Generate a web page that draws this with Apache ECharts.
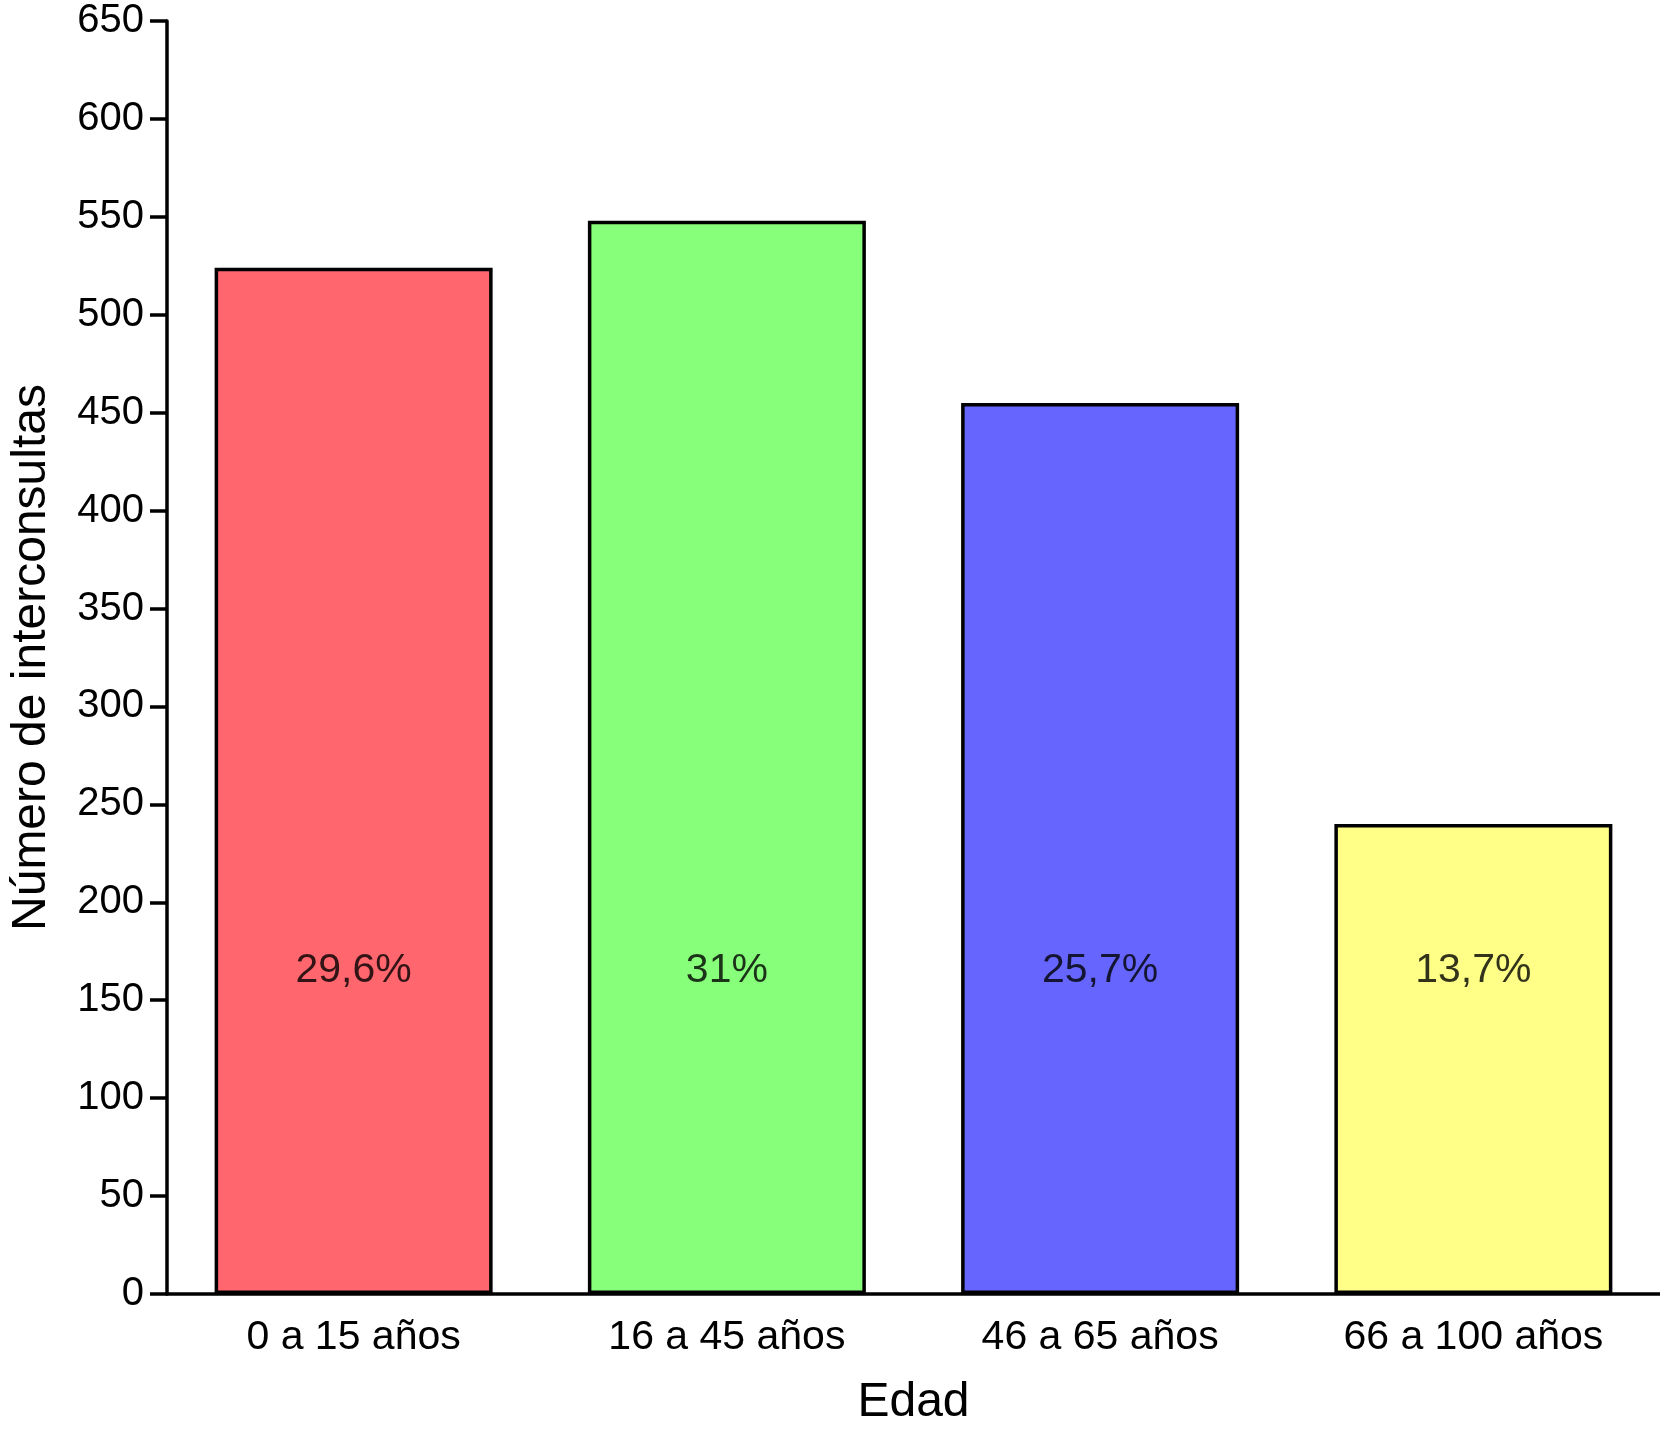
<!DOCTYPE html>
<html><head><meta charset="utf-8">
<script src="https://cdn.jsdelivr.net/npm/echarts@6/dist/echarts.min.js"></script>
<style>html,body{margin:0;padding:0;background:#fff}#c{width:1660px;height:1432px}</style>
</head><body><div id="c"></div>
<script>
const categories = ['0 a 15 años', '16 a 45 años', '46 a 65 años', '66 a 100 años'];
const values = [524, 548, 455, 240];
const percentLabels = ['29,6%', '31%', '25,7%', '13,7%'];
const barColors = ['#FF666E', '#88FF7A', '#6666FF', '#FFFF88'];
const labelLevel = 165;
const yTicks = {min: 0, max: 650, interval: 50};

const font = 'Liberation Sans, Arial, sans-serif';
const chart = echarts.init(document.getElementById('c'), null, {renderer: 'canvas'});
chart.setOption({
  backgroundColor: '#fff',
  animation: false,
  grid: {left: 160, right: -3, top: 21, bottom: 134, containLabel: false},
  xAxis: {
    type: 'category', data: categories,
    name: 'Edad', nameLocation: 'middle', nameGap: 85,
    nameTextStyle: {fontFamily: font, fontSize: 48, color: '#000'},
    axisLine: {lineStyle: {color: '#000', width: 3.5}},
    axisTick: {show: false},
    axisLabel: {fontFamily: font, fontSize: 41, color: '#000', margin: 23}
  },
  yAxis: {
    type: 'value', min: yTicks.min, max: yTicks.max, interval: yTicks.interval,
    name: 'Número de interconsultas', nameLocation: 'middle', nameGap: 111,
    nameTextStyle: {fontFamily: font, fontSize: 48, color: '#000'},
    axisLine: {show: true, lineStyle: {color: '#000', width: 3.5}},
    axisTick: {show: true, length: 17, lineStyle: {color: '#000', width: 3.5}},
    axisLabel: {fontFamily: font, fontSize: 40, color: '#000', margin: 23},
    splitLine: {show: false}
  },
  series: [{
    type: 'bar',
    barWidth: 278,
    data: values.map((v, i) => ({value: v, itemStyle: {color: barColors[i]}})),
    itemStyle: {borderColor: '#000', borderWidth: 3.5},
    z: 2
  }, {
    type: 'scatter',
    symbolSize: 0,
    data: percentLabels.map(() => labelLevel),
    label: {
      show: true, position: 'inside',
      formatter: p => percentLabels[p.dataIndex],
      fontFamily: font, fontSize: 41, color: '#000'
    },
    z: 5
  }]
});
</script></body></html>
